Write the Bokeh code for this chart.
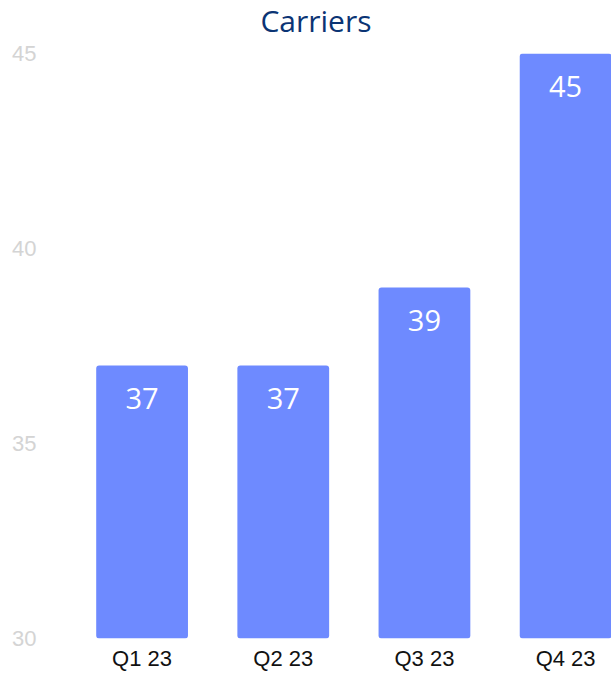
from bokeh.plotting import figure
from bokeh.models import Range1d, FixedTicker, ColumnDataSource, Div
from bokeh.layouts import column
from bokeh.embed import file_html
from bokeh.resources import INLINE
from bokeh.core.properties import value

title_text = "Carriers"
quarters = ["Q1 23", "Q2 23", "Q3 23", "Q4 23"]
carriers = [37, 37, 39, 45]
y_ticks = [30, 35, 40, 45]

xs = [i + 0.5 for i in range(len(quarters))]
src = ColumnDataSource(dict(x=xs, top=carriers, label=[str(v) for v in carriers]))

title = Div(text=title_text, width=611, height=42, margin=0,
            styles={"font-family": "Open Sans", "font-size": "30px",
                    "color": "#0b3474", "text-align": "center",
                    "line-height": "42px", "text-indent": "21px",
                    "white-space": "nowrap"})

p = figure(width=611, height=631, output_backend="svg", toolbar_location=None,
           x_range=Range1d(0, 3.825), y_range=Range1d(30, 45.0),
           min_border_left=71, min_border_right=0, min_border_bottom=0,
           min_border_top=11, margin=0)

p.vbar(x="x", top="top", bottom=30, width=0.65, source=src,
       fill_color="#6e8aff", line_color=None, border_radius=3)

p.text(x="x", y="top", text="label", source=src, y_offset=33,
       text_align="center", text_baseline="middle",
       text_color="white", text_font=value("Open Sans"), text_font_size="29px")

p.xaxis.ticker = FixedTicker(ticks=xs)
p.xaxis.major_label_overrides = {x: q for x, q in zip(xs, quarters)}
p.xaxis.major_label_text_font = "Liberation Sans"
p.xaxis.major_label_text_font_size = "22px"
p.xaxis.major_label_text_color = "#111111"
p.xaxis.major_label_standoff = 1

p.yaxis.ticker = FixedTicker(ticks=y_ticks)
p.yaxis.major_label_text_font = "Liberation Sans"
p.yaxis.major_label_text_font_size = "22px"
p.yaxis.major_label_text_color = "#d4d4d4"
p.yaxis.major_label_standoff = 29

for ax in (p.xaxis, p.yaxis):
    ax.axis_line_color = None
    ax.major_tick_line_color = None
    ax.minor_tick_line_color = None

p.grid.grid_line_color = None
p.outline_line_color = None
p.background_fill_color = "white"
p.border_fill_color = "white"

layout = column(title, p, spacing=0, margin=0)

open("out.html", "w").write(file_html(layout, INLINE))
